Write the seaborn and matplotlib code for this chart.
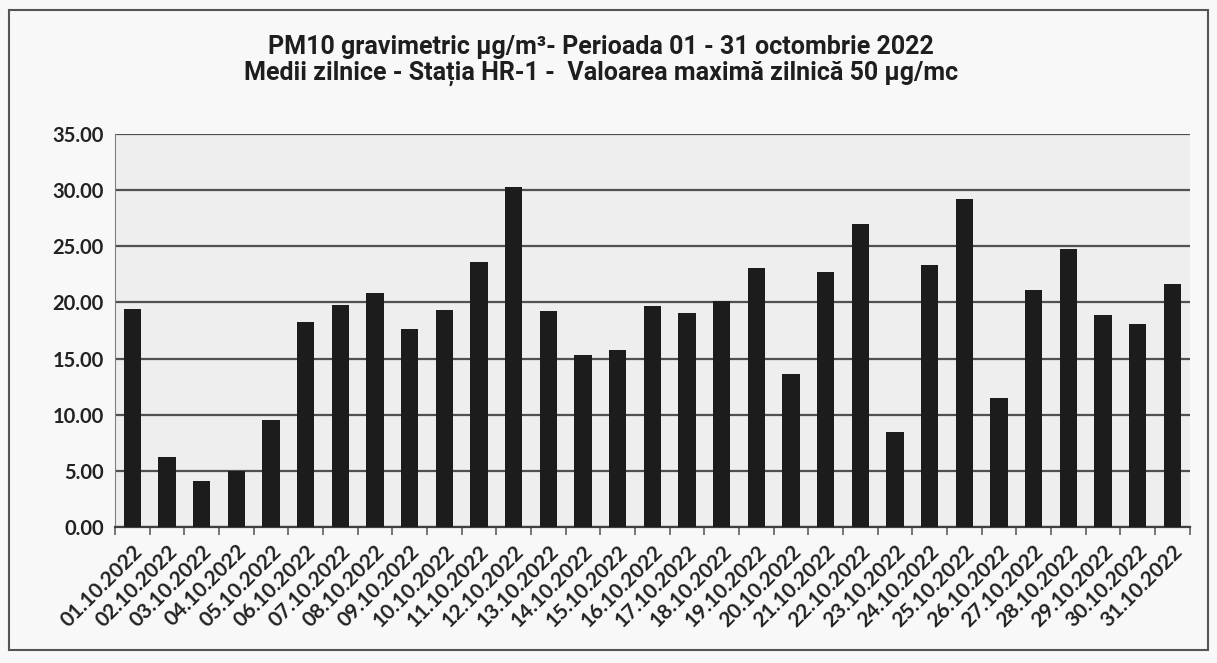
import pandas as pd
import seaborn as sns
import matplotlib.pyplot as plt
from matplotlib.patches import Rectangle
from matplotlib.ticker import MultipleLocator, FormatStrFormatter

# Daily PM10 means, October 2022
dates = [f"{d:02d}.10.2022" for d in range(1, 32)]
pm10 = [19.4, 6.2, 4.1, 5.0, 9.5, 18.3, 19.8, 20.8, 17.6, 19.3,
        23.6, 30.3, 19.2, 15.3, 15.8, 19.7, 19.1, 20.1, 23.1, 13.6,
        22.7, 27.0, 8.5, 23.3, 29.2, 11.5, 21.1, 24.8, 18.9, 18.1, 21.6]

title_lines = ["PM10 gravimetric µg/m³- Perioada 01 - 31 octombrie 2022",
               "Medii zilnice - Stația HR-1 -  Valoarea maximă zilnică 50 µg/mc"]

df = pd.DataFrame({"data": dates, "pm10": pm10})

sns.set_style("white")
plt.rcParams['font.family'] = ['Lato', 'DejaVu Sans']

fig = plt.figure(figsize=(12.17, 6.63), dpi=100, facecolor='#f8f8f8')
ax = fig.add_axes([0.0945, 0.205, 0.883, 0.593])
ax.set_facecolor('#eeeeee')

sns.barplot(data=df, x="data", y="pm10", color='#1c1c1c', width=0.5,
            saturation=1, linewidth=0, ax=ax, zorder=3)

ax.set_ylim(0, 35)
ax.set_xlim(-0.5, len(dates) - 0.5)
ax.yaxis.set_major_locator(MultipleLocator(5))
ax.yaxis.set_major_formatter(FormatStrFormatter('%.2f'))
ax.grid(axis='y', color='#505050', linewidth=1.6, zorder=0)
ax.set_axisbelow(True)
ax.set_xlabel("")
ax.set_ylabel("")

for s in ['top', 'right']:
    ax.spines[s].set_visible(False)
ax.spines['left'].set_color('#808080')
ax.spines['bottom'].set_color('#404040')
ax.spines['bottom'].set_linewidth(1.6)

ax.tick_params(axis='y', length=0, labelsize=14.5, pad=8, labelcolor='#222222')
ax.tick_params(axis='x', which='major', length=0, labelsize=15,
               labelcolor='#222222', pad=10)
ax.set_xticks(range(len(dates)))
ax.set_xticklabels(dates, rotation=45, ha='right', rotation_mode='anchor')
ax.set_xticks([i - 0.5 for i in range(len(dates) + 1)], minor=True)
ax.tick_params(axis='x', which='minor', length=6, color='#606060', width=1.2,
               direction='out', bottom=True)
for lbl in ax.get_yticklabels() + ax.get_xticklabels():
    lbl.set_fontweight('bold')

# two-line title
for y, line in zip([0.929, 0.889], title_lines):
    fig.text(0.494, y, line, ha='center', va='center', fontsize=18,
             fontweight='bold', color='#1e1e1e',
             family=['Roboto', 'DejaVu Sans'])

fig.patches.append(Rectangle((0.007, 0.02), 0.986, 0.965, transform=fig.transFigure,
                             fill=False, edgecolor='#555555', linewidth=1.5))

fig.savefig('out.png', dpi=100, facecolor=fig.get_facecolor())
